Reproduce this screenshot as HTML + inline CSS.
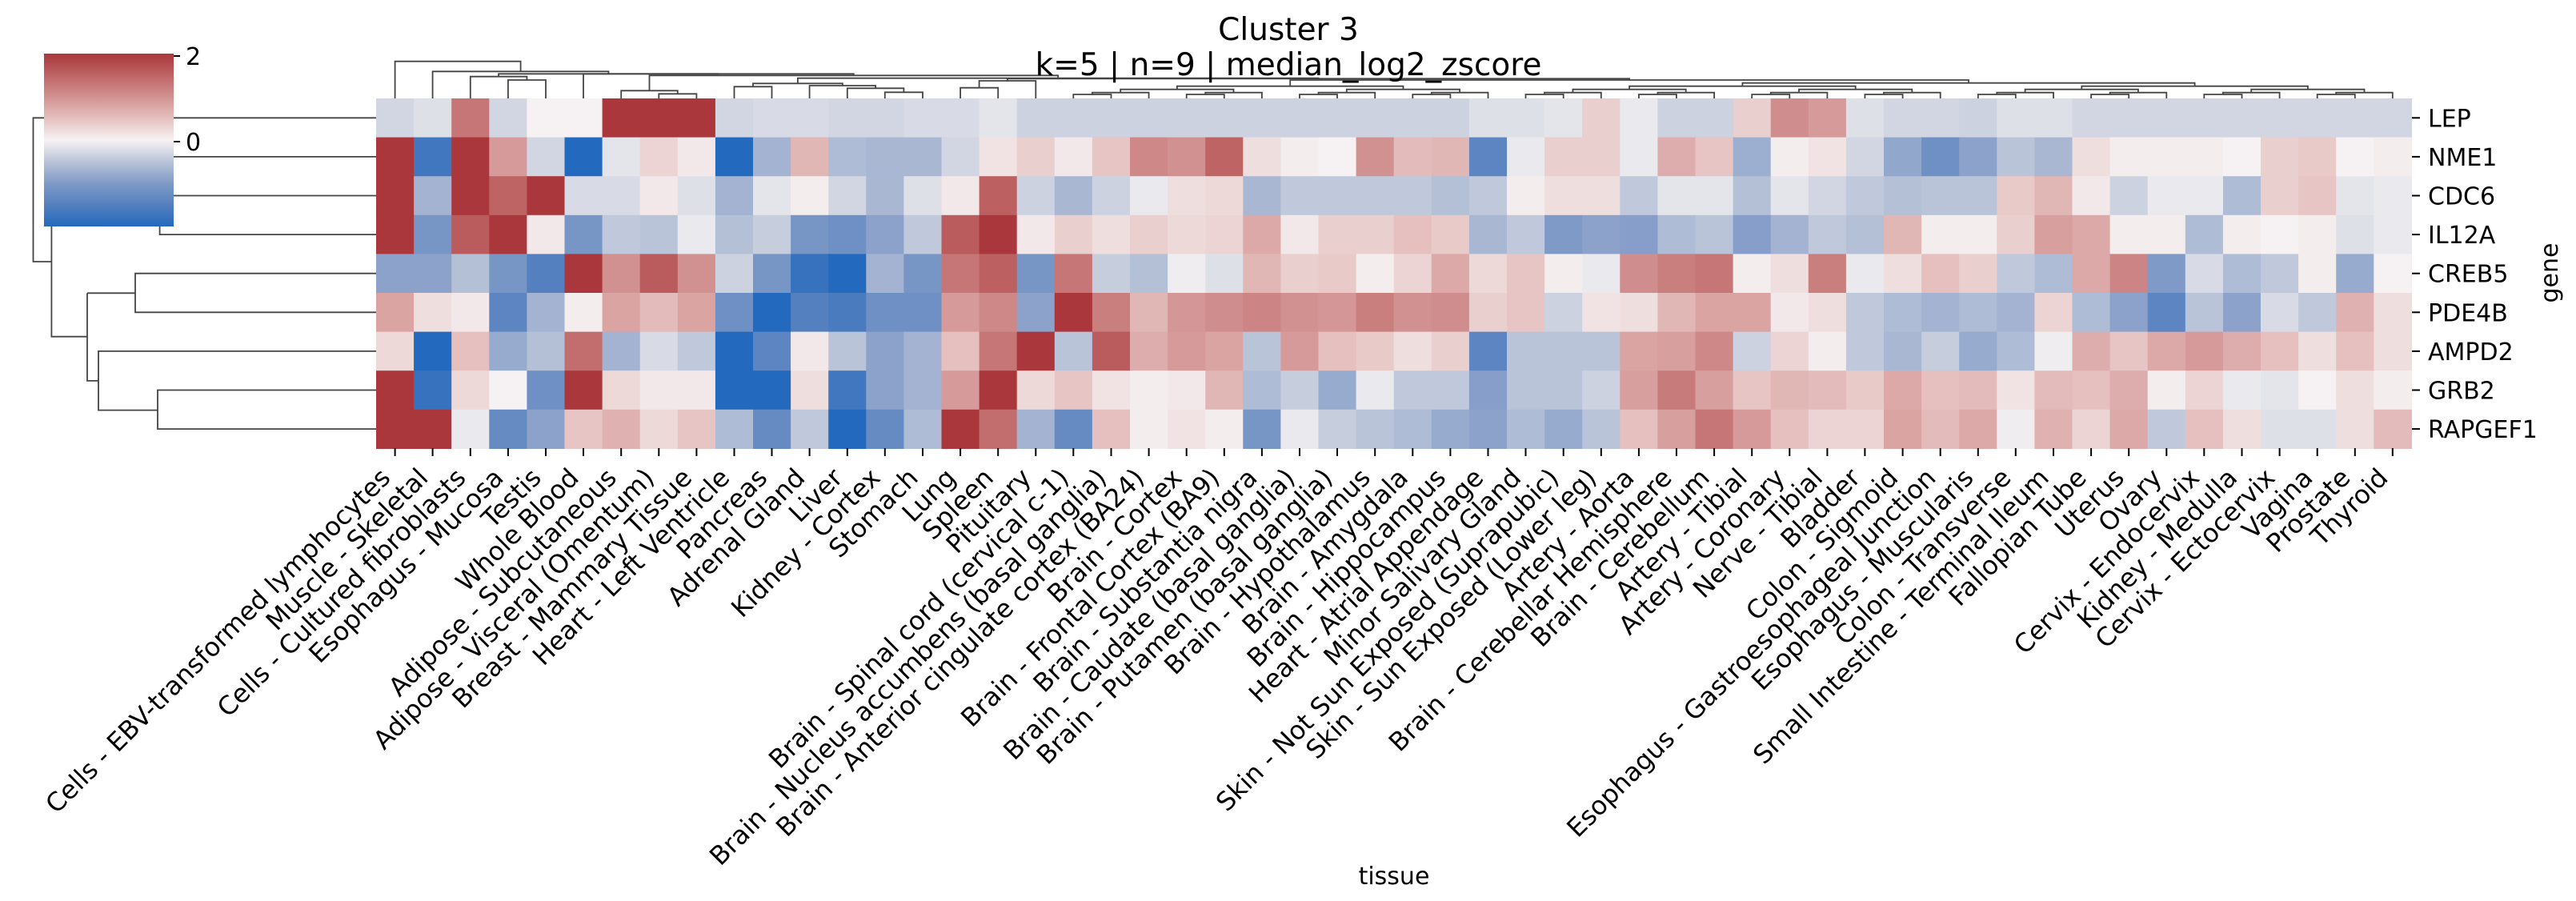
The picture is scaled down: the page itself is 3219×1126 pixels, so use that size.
<!DOCTYPE html>
<html><head><meta charset="utf-8">
<style>
html,body{margin:0;padding:0;background:#fff;}
svg{display:block;}
text{font-family:"DejaVu Sans","Liberation Sans",sans-serif;fill:#000;}
</style></head>
<body>
<svg id="s" xmlns="http://www.w3.org/2000/svg" width="3219" height="1126" viewBox="0 0 3219 1126">
<defs>
<linearGradient id="cb" x1="0" y1="1" x2="0" y2="0">
<stop offset="0" stop-color="rgb(35,105,189)"/>
<stop offset="0.125" stop-color="rgb(84,128,191)"/>
<stop offset="0.25" stop-color="rgb(128,154,199)"/>
<stop offset="0.375" stop-color="rgb(186,196,216)"/>
<stop offset="0.5" stop-color="rgb(246,242,243)"/>
<stop offset="0.625" stop-color="rgb(229,192,191)"/>
<stop offset="0.75" stop-color="rgb(210,145,145)"/>
<stop offset="0.875" stop-color="rgb(190,100,101)"/>
<stop offset="1" stop-color="rgb(169,55,59)"/>
</linearGradient>
</defs>
<g id="heat"></g>
<g id="dend" fill="none" stroke="#444" stroke-width="1.8"></g>
<rect x="55" y="67" width="162" height="216" fill="url(#cb)"/>
<line x1="217" y1="70" x2="225" y2="70" stroke="#000" stroke-width="2"/>
<line x1="217" y1="177" x2="225" y2="177" stroke="#000" stroke-width="2"/>
<text x="232" y="81" font-size="30">2</text>
<text x="232" y="188" font-size="30">0</text>
<text x="1610" y="50" font-size="39" text-anchor="middle">Cluster 3</text>
<text x="1610" y="94" font-size="39" text-anchor="middle">k=5 | n=9 | median_log2_zscore</text>
<text x="1742" y="1105" font-size="30" text-anchor="middle">tissue</text>
<text x="0" y="0" font-size="30" text-anchor="middle" transform="translate(3196,341) rotate(-90)">gene</text>
<g id="labels"></g>
</svg>
<script>
var X0=470,Y0=123,CW=47.1,RH=48.6;
var genes=["LEP","NME1","CDC6","IL12A","CREB5","PDE4B","AMPD2","GRB2","RAPGEF1"];
var tissues=["Cells - EBV-transformed lymphocytes","Muscle - Skeletal","Cells - Cultured fibroblasts","Esophagus - Mucosa","Testis","Whole Blood","Adipose - Subcutaneous","Adipose - Visceral (Omentum)","Breast - Mammary Tissue","Heart - Left Ventricle","Pancreas","Adrenal Gland","Liver","Kidney - Cortex","Stomach","Lung","Spleen","Pituitary","Brain - Spinal cord (cervical c-1)","Brain - Nucleus accumbens (basal ganglia)","Brain - Anterior cingulate cortex (BA24)","Brain - Cortex","Brain - Frontal Cortex (BA9)","Brain - Substantia nigra","Brain - Caudate (basal ganglia)","Brain - Putamen (basal ganglia)","Brain - Hypothalamus","Brain - Amygdala","Brain - Hippocampus","Heart - Atrial Appendage","Minor Salivary Gland","Skin - Not Sun Exposed (Suprapubic)","Skin - Sun Exposed (Lower leg)","Artery - Aorta","Brain - Cerebellar Hemisphere","Brain - Cerebellum","Artery - Tibial","Artery - Coronary","Nerve - Tibial","Bladder","Colon - Sigmoid","Esophagus - Gastroesophageal Junction","Esophagus - Muscularis","Colon - Transverse","Small Intestine - Terminal Ileum","Fallopian Tube","Uterus","Ovary","Cervix - Endocervix","Kidney - Medulla","Cervix - Ectocervix","Vagina","Prostate","Thyroid"];
var D=[
[-0.3,-0.2,1.3,-0.3,0,0,2,2,2,-0.3,-0.25, -0.25,-0.3,-0.3,-0.25,-0.25,-0.15,-0.35,-0.35,-0.35,-0.35,-0.35,-0.35,-0.35,-0.35,-0.35, -0.35,-0.35,-0.35,-0.2,-0.2,-0.15,0.35,-0.1,-0.35,-0.35,0.35,1.05,0.9,-0.2,-0.3, -0.3,-0.35,-0.2,-0.2,-0.3,-0.3,-0.3,-0.3,-0.3,-0.3,-0.3,-0.3,-0.3],
[2,-1.7,2,0.9,-0.3,-2,-0.15,0.3,0.1,-2,-0.7, 0.6,-0.6,-0.65,-0.65,-0.3,0.15,0.35,0.1,0.45,1.1,1.0,1.5,0.2,0.05,0.0, 1.0,0.55,0.6,-1.4,-0.1,0.35,0.35,-0.1,0.7,0.45,-0.75,0.05,0.15,-0.3,-0.85, -1.2,-0.9,-0.5,-0.65,0.2,0.05,0.05,0.05,0.0,0.35,0.4,0.0,0.05],
[2,-0.7,2,1.5,2,-0.25,-0.25,0.1,-0.2,-0.7,-0.15, 0.05,-0.3,-0.65,-0.2,0.1,1.55,-0.35,-0.65,-0.35,-0.1,0.2,0.25,-0.65,-0.45,-0.45, -0.45,-0.45,-0.55,-0.45,0.05,0.2,0.2,-0.45,-0.15,-0.15,-0.55,-0.15,-0.3,-0.45,-0.55, -0.5,-0.5,0.4,0.6,0.1,-0.35,-0.1,-0.1,-0.6,0.35,0.45,-0.15,-0.1],
[2,-1.1,1.6,2,0.1,-1.1,-0.45,-0.5,-0.1,-0.55,-0.4, -1.1,-1.2,-0.9,-0.45,1.6,2,0.1,0.35,0.2,0.35,0.25,0.3,0.75,0.1,0.35, 0.35,0.5,0.4,-0.65,-0.45,-1.0,-0.9,-0.95,-0.6,-0.5,-0.95,-0.7,-0.45,-0.55,0.6, 0.05,0.05,0.35,0.85,0.75,0.05,0.05,-0.6,0.05,0,0.05,-0.2,-0.1],
[-0.9,-0.9,-0.55,-1.1,-1.5,2,1.0,1.6,1.0,-0.35,-1.1, -1.8,-2,-0.7,-1.1,1.3,1.55,-1.1,1.3,-0.4,-0.55,-0.05,-0.2,0.6,0.35,0.4, 0.05,0.3,0.75,0.25,0.45,0.05,-0.1,1.05,1.2,1.3,0.05,0.2,1.2,-0.1,0.2, 0.5,0.35,-0.45,-0.6,0.75,1.15,-1.0,-0.25,-0.6,-0.45,0.05,-0.8,0],
[0.8,0.2,0.1,-1.4,-0.7,0.05,0.8,0.55,0.8,-1.2,-2, -1.5,-1.6,-1.2,-1.2,0.9,1.1,-0.9,2,1.2,0.6,0.95,1.05,1.15,1.0,0.95, 1.2,1.0,1.05,0.35,0.45,-0.35,0.15,0.2,0.6,0.8,0.8,0.1,0.2,-0.45,-0.6, -0.7,-0.6,-0.7,0.3,-0.6,-0.9,-1.4,-0.5,-0.9,-0.25,-0.45,0.65,0.2],
[0.25,-2,0.5,-0.8,-0.55,1.4,-0.7,-0.25,-0.45,-2,-1.4, 0.1,-0.5,-0.9,-0.7,0.5,1.3,2,-0.5,1.6,0.7,0.9,0.8,-0.5,0.9,0.5, 0.4,0.2,0.35,-1.4,-0.5,-0.5,-0.5,0.8,0.85,1.1,-0.35,0.3,0.05,-0.45,-0.65, -0.4,-0.8,-0.6,-0.05,0.7,0.45,0.75,0.9,0.7,0.5,0.2,0.5,0.2],
[2,-1.8,0.25,0,-1.2,2,0.25,0.1,0.1,-2,-2, 0.2,-1.7,-0.9,-0.7,0.9,2,0.25,0.45,0.15,0.05,0.1,0.6,-0.6,-0.4,-0.8, -0.1,-0.45,-0.45,-0.95,-0.5,-0.5,-0.35,0.85,1.25,0.85,0.45,0.6,0.55,0.4,0.75, 0.5,0.55,0.15,0.55,0.5,0.7,0.05,0.3,-0.1,-0.15,0,0.2,0.05],
[2,2,-0.1,-1.3,-0.9,0.45,0.65,0.25,0.45,-0.6,-1.3, -0.45,-2,-1.3,-0.6,2,1.4,-0.7,-1.3,0.5,0.05,0.15,0.05,-1.1,-0.1,-0.4, -0.5,-0.6,-0.8,-0.9,-0.6,-0.8,-0.5,0.5,0.85,1.3,0.9,0.5,0.3,0.3,0.8, 0.55,0.75,-0.05,0.65,0.3,0.75,-0.45,0.5,0.2,-0.2,-0.2,0.2,0.55]
];
var stops=[[35,105,189],[84,128,191],[128,154,199],[186,196,216],[246,242,243],[229,192,191],[210,145,145],[190,100,101],[169,55,59]];
function col(v){var t=(Math.max(-2,Math.min(2,v))+2)/4*8;var i=Math.min(7,Math.floor(t));var f=t-i;var a=stops[i],b=stops[i+1];
return "rgb("+Math.round(a[0]+(b[0]-a[0])*f)+","+Math.round(a[1]+(b[1]-a[1])*f)+","+Math.round(a[2]+(b[2]-a[2])*f)+")";}
var NS="http://www.w3.org/2000/svg";
function el(tag,attrs,parent,txt){var e=document.createElementNS(NS,tag);for(var k in attrs)e.setAttribute(k,attrs[k]);if(txt!=null)e.textContent=txt;parent.appendChild(e);return e;}
var heat=document.getElementById("heat"),lab=document.getElementById("labels"),dend=document.getElementById("dend");
for(var r=0;r<9;r++){for(var c=0;c<54;c++){
 var x=X0+c*CW,y=Y0+r*RH;
 el("rect",{x:x.toFixed(2),y:y.toFixed(2),width:(CW+0.6).toFixed(2),height:(RH+0.6).toFixed(2),fill:col(D[r][c])},heat);
}
 var cy=Y0+(r+0.5)*RH;
 el("line",{x1:3014,y1:cy,x2:3024,y2:cy,stroke:"#000","stroke-width":2},lab);
 el("text",{x:3034,y:(cy+11).toFixed(1),"font-size":30},lab,genes[r]);
}
for(var c=0;c<54;c++){
 var cx=X0+(c+0.5)*CW;
 el("line",{x1:cx.toFixed(1),y1:560,x2:cx.toFixed(1),y2:570,stroke:"#000","stroke-width":2},lab);
 el("text",{x:0,y:0,"font-size":32,"text-anchor":"end",transform:"translate("+(cx-4).toFixed(1)+",599) rotate(-45)"},lab,tissues[c]);
}
function N(l,r,h){return {l:l,r:r,h:h};}
function cxOf(n){return typeof n==="number"?X0+(n+0.5)*CW:(cxOf(n.l)+cxOf(n.r))/2;}
function yOf(n){return typeof n==="number"?Y0:n.h;}
function draw(n){if(typeof n==="number")return;var xl=cxOf(n.l),xr=cxOf(n.r);
 el("path",{d:"M"+xl.toFixed(1)+","+yOf(n.l).toFixed(1)+"V"+n.h.toFixed(1)+"H"+xr.toFixed(1)+"V"+yOf(n.r).toFixed(1)},dend);
 draw(n.l);draw(n.r);}
function build(lo,hi){if(lo===hi)return lo;var m=Math.floor((lo+hi)/2);var size=hi-lo+1;
 var h=123-5-4*Math.log(size/2)/Math.log(2)-((lo*7)%3);return N(build(lo,m),build(m+1,hi),Math.min(118,h));}
var rest=N(build(18,29),build(30,53),100);
var left=N(N(N(9,10,108.3),N(11,N(12,N(13,14,115.3),110.3),107),104.3), N(N(N(15,16,109.7),17,101),rest,98.3),97.7);
var tree=N(0,N(1,N(N(2,N(3,4,100),95.7),N(5,N(N(6,N(7,8,117.3),113.3),left,94.3),92.3),92.3),89.3),76.7);
draw(tree);
var rc=function(i){return Y0+(i+0.5)*RH;};
var P=[
"M470,"+rc(0)+"H41.5V327H64.4",
"M64.4,233V420.7H109",
"M470,"+rc(1)+"H180V"+rc(2)+"H470",
"M180,220.2H199.6V"+rc(3)+"H470",
"M64.4,233H199.6",
"M109,366.3H169",
"M470,"+rc(4)+"H169V"+rc(5)+"H470",
"M109,366.3V475.9H123",
"M470,"+rc(6)+"H123V512.6H197",
"M470,"+rc(7)+"H197V"+rc(8)+"H470"
];
P.forEach(function(d){el("path",{d:d},dend);});
</script>
</body></html>
